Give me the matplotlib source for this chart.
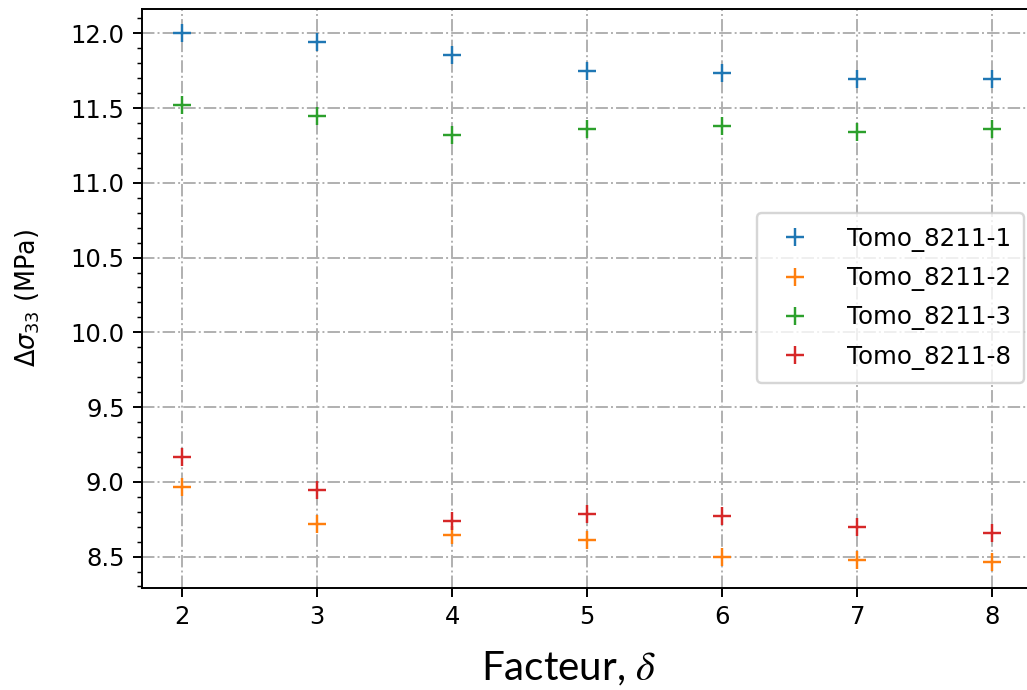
import matplotlib
matplotlib.use("Agg")
import matplotlib.pyplot as plt
from matplotlib.ticker import MultipleLocator

# Facteur delta
facteur = [2, 3, 4, 5, 6, 7, 8]

# Delta sigma_33 (MPa) for each tomography sample
tomo_1 = [12.00, 11.944, 11.856, 11.751, 11.733, 11.696, 11.696]
tomo_2 = [8.966, 8.715, 8.643, 8.608, 8.500, 8.478, 8.466]
tomo_3 = [11.520, 11.449, 11.322, 11.360, 11.378, 11.342, 11.360]
tomo_8 = [9.164, 8.948, 8.738, 8.787, 8.769, 8.697, 8.659]

series_labels = ["Tomo_8211-1", "Tomo_8211-2", "Tomo_8211-3", "Tomo_8211-8"]

W, H, DPI = 1027, 690, 175
fig = plt.figure(figsize=(W / DPI, H / DPI), dpi=DPI)

# axes box in pixels: left 141.7, right 1032.8 (runs past the figure edge), top 9, bottom 587.5
left, right, top, bottom = 141.7, 1032.8, 9.0, 587.5
ax = fig.add_axes([left / W, (H - bottom) / H, (right - left) / W, (bottom - top) / H])

for ys, lab in zip([tomo_1, tomo_2, tomo_3, tomo_8], series_labels):
    ax.plot(facteur, ys, "+", markersize=7.5, label=lab)

ax.set_xlim(1.7, 8.3)
ax.set_ylim(8.293, 12.163)
ax.yaxis.set_major_locator(MultipleLocator(0.5))
ax.yaxis.set_minor_locator(MultipleLocator(0.1))
ax.xaxis.set_major_locator(MultipleLocator(1))

ax.grid(True, which="major", linestyle="-.", color="#b0b0b0", linewidth=0.8)

ax.set_ylabel(r"$\Delta\sigma_{33}$ (MPa)", fontsize=10.5)
ax.yaxis.set_label_coords(-0.112, 0.5)

ax.legend(loc="center right", fontsize=10.1, borderpad=0.55, handlelength=2.0,
          handletextpad=1.1, labelspacing=0.58, borderaxespad=0.35)

fig.text(569 / W, (H - 680) / H, r"Facteur, $\delta$", family="Lato", fontsize=16.6,
         ha="center", va="baseline", math_fontfamily="stix")

fig.savefig("out.png", dpi=DPI)
